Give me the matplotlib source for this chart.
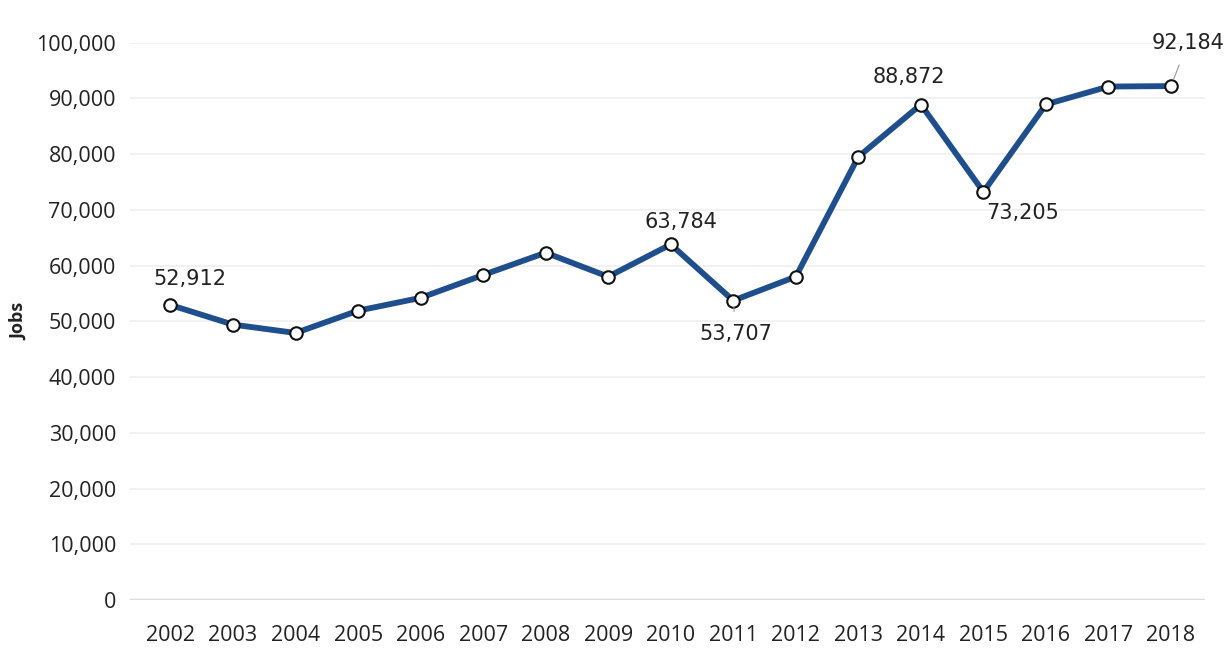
import matplotlib.pyplot as plt
from matplotlib.ticker import FuncFormatter

years = list(range(2002, 2019))
jobs = [52912, 49400, 47900, 51900, 54200, 58300, 62300, 58000, 63784,
        53707, 58000, 79500, 88872, 73205, 88900, 92100, 92184]

# (index, label offset in points)
labels = {0: (14, 19), 8: (7, 16), 9: (2, -24), 12: (-9, 20), 13: (28, -15), 16: (12, 31)}
leaders = {9, 16}

plt.rcParams["font.family"] = ["Open Sans", "DejaVu Sans"]

fig = plt.figure(figsize=(12.25, 6.49), dpi=100)
ax = fig.add_axes([0.106, 0.0755, 0.878, 0.859])

ax.set_axisbelow(True)
ax.grid(axis="y", color="#efefef", linewidth=1.2)
ax.axhline(0, color="#dcdcdc", linewidth=2.5, zorder=1)

x = list(range(len(years)))
ax.plot(x, jobs, "-", color="#1f4e8c", linewidth=4.2, zorder=2)
ax.plot(x, jobs, "o", markersize=9, markerfacecolor="white",
        markeredgecolor="#111111", markeredgewidth=1.5, zorder=3)

for i, (dx, dy) in labels.items():
    kw = {}
    if i in leaders:
        kw["arrowprops"] = dict(arrowstyle="-", color="#999999", lw=0.8,
                                shrinkA=7, shrinkB=5)
    ax.annotate(f"{jobs[i]:,}", (x[i], jobs[i]), xytext=(dx, dy),
                textcoords="offset points", ha="center", va="center",
                fontsize=15, family="DejaVu Sans", color="#222222", **kw)

ax.set_xlim(-0.65, 16.55)
ax.set_ylim(0, 100000)
ax.set_yticks(range(0, 100001, 10000))
ax.yaxis.set_major_formatter(FuncFormatter(lambda v, p: f"{int(v):,}"))
ax.set_xticks(x)
ax.set_xticklabels([str(y) for y in years])
ax.tick_params(axis="y", length=0, labelsize=15.5, colors="#222222", pad=10)
ax.tick_params(axis="x", length=0, labelsize=15.5, colors="#222222", pad=18)
ax.set_ylabel("Jobs", fontsize=13, fontweight="bold", color="#222222", labelpad=6)
for s in ax.spines.values():
    s.set_visible(False)

fig.savefig("out.png", dpi=100)
